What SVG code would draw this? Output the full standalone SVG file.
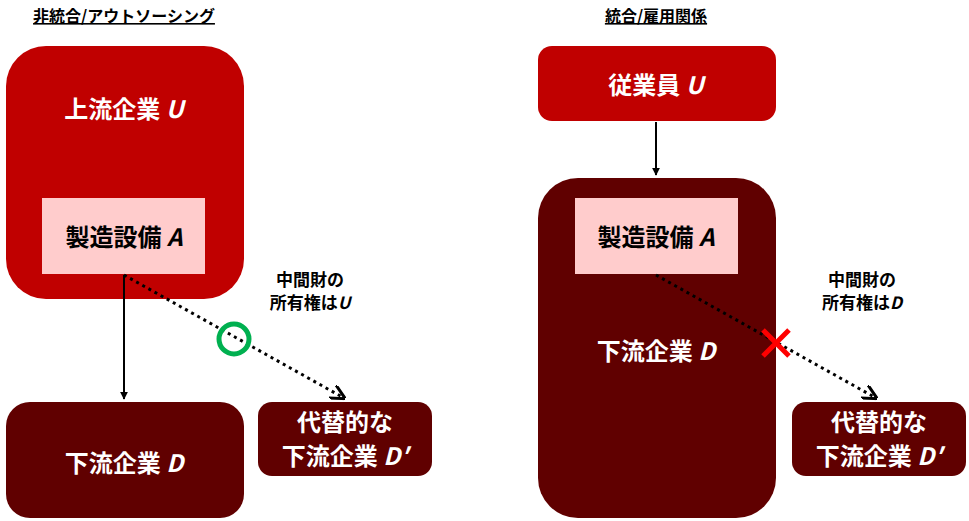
<svg xmlns="http://www.w3.org/2000/svg" width="969" height="521" viewBox="0 0 969 521">
<defs>
<style>
text{font-family:"Noto Sans CJK JP","Noto Sans",sans-serif;font-weight:bold;text-anchor:middle}
.w{fill:#fff;font-size:24px}
.k{fill:#000;font-size:24px}
.s{fill:#000;font-size:17px}
.t{fill:#000;font-size:16px;text-decoration:underline}
.red{fill:#C00000}
.dark{fill:#600000}
.pink{fill:#FFCCCC}
.solid{stroke:#000;stroke-width:2;fill:none}
.dot{stroke:#000;stroke-width:3;stroke-dasharray:3 4;fill:none}
</style>
<marker id="ar" viewBox="0 0 10 10" refX="9" refY="5" markerWidth="5" markerHeight="5" orient="auto"><path d="M0,0L10,5L0,10" fill="none" stroke="#000" stroke-width="2"/></marker>
<marker id="af" viewBox="0 0 10 10" refX="9" refY="5" markerWidth="4" markerHeight="4" orient="auto"><path d="M0,0L10,5L0,10Z" fill="#000"/></marker>
</defs>
<text class="t" x="124" y="22">非統合/アウトソーシング</text>
<text class="t" x="656" y="22">統合/雇用関係</text>
<g id="upstream-u"><rect class="red" x="6" y="46" width="238" height="253" rx="40"/><text class="w" x="124" y="118">上流企業 <tspan font-style="italic">U</tspan></text></g>
<g id="equip-a-left"><rect class="pink" x="42" y="198" width="163" height="76"/><text class="k" x="124" y="246" fill="#000">製造設備 <tspan font-style="italic">A</tspan></text></g>
<g id="downstream-d-left"><rect class="dark" x="6" y="402" width="238" height="116" rx="24"/><text class="w" x="124" y="472">下流企業 <tspan font-style="italic">D</tspan></text></g>
<g id="alt-d-left"><rect class="dark" x="258" y="402" width="174" height="74" rx="14"/><text class="w" x="345" y="431">代替的な</text><text class="w" x="345" y="465">下流企業 <tspan font-style="italic">D′</tspan></text></g>
<g id="label-left"><text class="s" x="310" y="286">中間財の</text><text class="s" x="310" y="309">所有権は<tspan font-style="italic">U</tspan></text></g>
<g id="employee-u"><rect class="red" x="538" y="46" width="238" height="75" rx="14"/><text class="w" x="656" y="94">従業員 <tspan font-style="italic">U</tspan></text></g>
<g id="downstream-d-right"><rect class="dark" x="538" y="178" width="238" height="340" rx="40"/><text class="w" x="656" y="360">下流企業 <tspan font-style="italic">D</tspan></text></g>
<g id="equip-a-right"><rect class="pink" x="575" y="198" width="163" height="76"/><text class="k" x="656" y="246">製造設備 <tspan font-style="italic">A</tspan></text></g>
<g id="alt-d-right"><rect class="dark" x="792" y="402" width="174" height="74" rx="14"/><text class="w" x="879" y="431">代替的な</text><text class="w" x="879" y="465">下流企業 <tspan font-style="italic">D′</tspan></text></g>
<g id="label-right"><text class="s" x="862" y="286">中間財の</text><text class="s" x="862" y="309">所有権は<tspan font-style="italic">D</tspan></text></g>
<g id="connectors">
<line class="solid" x1="124" y1="275" x2="124" y2="399" marker-end="url(#af)"/>
<line class="solid" x1="656" y1="122" x2="656" y2="175" marker-end="url(#af)"/>
<line class="dot" x1="124" y1="275" x2="344" y2="398" marker-end="url(#ar)"/>
<line class="dot" x1="656" y1="275" x2="876" y2="398" marker-end="url(#ar)"/>
<circle cx="234" cy="339" r="15" fill="none" stroke="#00B050" stroke-width="5"/>
<path d="M763,330L789,356M789,330L763,356" stroke="#FF0000" stroke-width="5"/>
</g>
</svg>
